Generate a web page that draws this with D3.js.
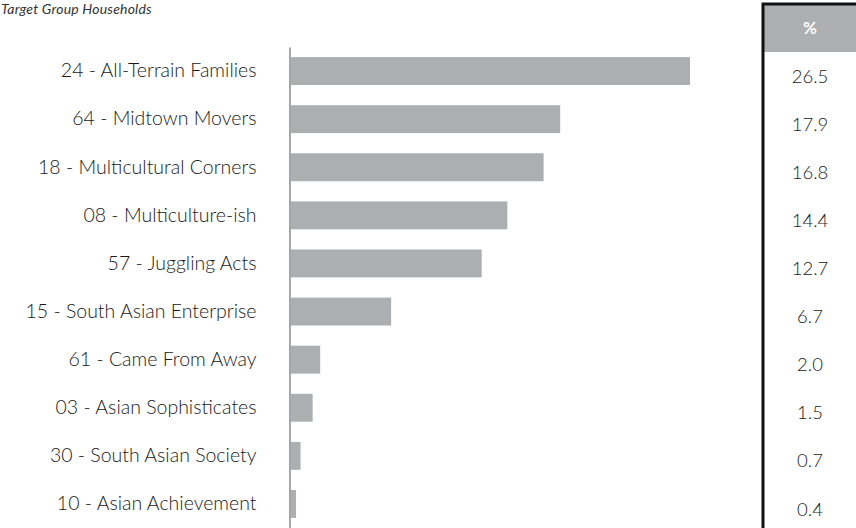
<!DOCTYPE html>
<html><head><meta charset="utf-8">
<script src="https://cdn.jsdelivr.net/npm/d3@7"></script>
<style>body{margin:0;background:#fff}svg{display:block}</style>
</head><body>
<svg id="c" width="856" height="528"></svg>
<script>
const title = "Target Group Households";
const categories = ["24 - All-Terrain Families","64 - Midtown Movers","18 - Multicultural Corners","08 - Multiculture-ish","57 - Juggling Acts","15 - South Asian Enterprise","61 - Came From Away","03 - Asian Sophisticates","30 - South Asian Society","10 - Asian Achievement"];
const values = [26.5,17.9,16.8,14.4,12.7,6.7,2.0,1.5,0.7,0.4];
const valueLabels = ["26.5","17.9","16.8","14.4","12.7","6.7","2.0","1.5","0.7","0.4"];
const tableHeader = "%";

const svg = d3.select("#c");
const font = "Lato, 'Open Sans', sans-serif";
const x = d3.scaleLinear().domain([0, 26.5]).range([290, 690]);
const y = d3.scaleBand().domain(categories).range([47, 528]).paddingInner(0.42).paddingOuter(0.21);

svg.append("text").attr("x", 1).attr("y", 14).attr("font-family", font).attr("font-style","italic")
  .attr("font-size", 14).attr("letter-spacing", 0.2).attr("fill", "#333").text(title);

svg.selectAll("rect.bar").data(values).join("rect").attr("class","bar")
  .attr("x", x(0)).attr("y", (d,i)=>y(categories[i]))
  .attr("width", d=>x(d)-x(0)).attr("height", y.bandwidth())
  .attr("fill", "#adaeb0");

const yAxis = svg.append("g").attr("transform", "translate(289.5,0)")
  .call(d3.axisLeft(y).tickSize(0).tickPadding(33));
yAxis.select(".domain").attr("stroke", "#a6a6a6").attr("stroke-width", 2);
yAxis.selectAll("text").attr("font-family", font).attr("font-size", 19.5).attr("font-weight", 300).attr("fill", "#1a1a1a");

// table
const tx = 763, tw = 100;
svg.append("rect").attr("x", tx).attr("y", 4).attr("width", tw).attr("height", 48).attr("fill", "#adaeb0");
svg.append("text").attr("x", 810).attr("y", 30).attr("text-anchor","middle").attr("dominant-baseline","middle")
  .attr("font-family", font).attr("font-size", 17).attr("font-weight","bold").attr("fill","#fff").text(tableHeader);
svg.append("rect").attr("x", tx).attr("y", 4).attr("width", tw).attr("height", 540)
  .attr("fill","none").attr("stroke","#111").attr("stroke-width",3);
svg.selectAll("text.val").data(valueLabels).join("text").attr("class","val")
  .attr("x", 810).attr("y", (d,i)=>y(categories[i]) + y.bandwidth()/2 + 7)
  .attr("text-anchor","middle").attr("dominant-baseline","middle")
  .attr("font-family", font).attr("font-size", 18.5).attr("font-weight", 300).attr("fill","#222").text(d=>d);
</script>
</body></html>
